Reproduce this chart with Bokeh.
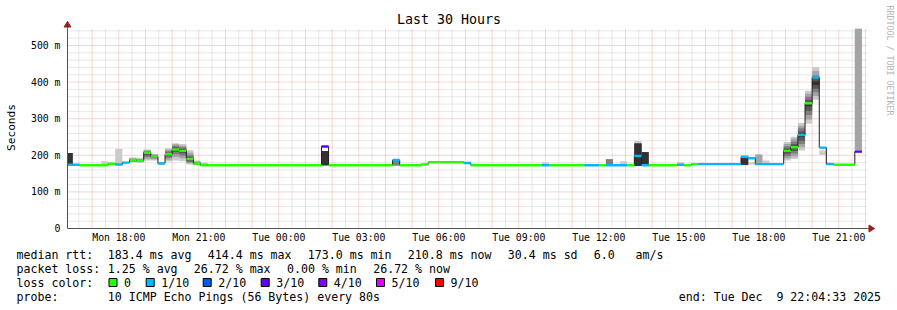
import math
import pandas as pd
from bokeh.plotting import figure
from bokeh.core.properties import value
from bokeh.models import (Range1d, FixedTicker, CustomJSTickFormatter, DatetimeTickFormatter,
                          ColumnDataSource)
from bokeh.embed import file_html
from bokeh.resources import INLINE

# ---------------- data ----------------
title_text = "Last 30 Hours"
y_label = "Seconds"
watermark = "RRDTOOL / TOBI OETIKER"
start_time = "2025-12-08 16:04:33"
end_time = "2025-12-09 22:04:33"

# consolidated 16-minute bins (run-length: a row holds until the next start)
bin_start = [
    "2025-12-08 16:00", "2025-12-08 16:16", "2025-12-08 16:32", "2025-12-08 17:20",
    "2025-12-08 17:36", "2025-12-08 17:52", "2025-12-08 18:08", "2025-12-08 18:24",
    "2025-12-08 18:40", "2025-12-08 18:56", "2025-12-08 19:12", "2025-12-08 19:28",
    "2025-12-08 19:44", "2025-12-08 20:00", "2025-12-08 20:16", "2025-12-08 20:32",
    "2025-12-08 20:48", "2025-12-08 21:04", "2025-12-08 21:20", "2025-12-09 01:36",
    "2025-12-09 01:52", "2025-12-09 04:16", "2025-12-09 04:32", "2025-12-09 05:20",
    "2025-12-09 05:36", "2025-12-09 06:56", "2025-12-09 07:12", "2025-12-09 09:52",
    "2025-12-09 10:08", "2025-12-09 11:28", "2025-12-09 12:00", "2025-12-09 12:16",
    "2025-12-09 12:32", "2025-12-09 12:48", "2025-12-09 13:04", "2025-12-09 13:20",
    "2025-12-09 13:36", "2025-12-09 13:52", "2025-12-09 14:56", "2025-12-09 15:12",
    "2025-12-09 15:28", "2025-12-09 15:44", "2025-12-09 17:20", "2025-12-09 17:36",
    "2025-12-09 17:52", "2025-12-09 18:08", "2025-12-09 18:24", "2025-12-09 18:56",
    "2025-12-09 19:12", "2025-12-09 19:28", "2025-12-09 19:44", "2025-12-09 20:00",
    "2025-12-09 20:16", "2025-12-09 20:32", "2025-12-09 20:48", "2025-12-09 21:36",
]
last_bin_end = "2025-12-09 21:52"

median_ms = [
    174, 174, 173, 173, 177, 175, 180, 187, 185, 207, 197, 178, 203, 216, 212, 190,
    177, 173, 173, 224, 173, 187, 173, 175, 181, 179, 173, 173, 173, 173, 173, 173,
    173, 173, 173, 198, 173, 173, 174, 173, 176, 176, 196, 192, 176, 176, 176, 212,
    222, 255, 342, 413, 221, 176, 174, 210,
]

lost_pings = [
    1, 1, 0, 0, 0, 1, 1, 0, 0, 0, 0, 1, 0, 0, 0, 0,
    0, 0, 0, 3, 0, 1, 0, 0, 0, 1, 0, 1, 0, 1, 0, 1,
    1, 1, 0, 1, 1, 0, 1, 0, 0, 1, 1, 1, 1, 1, 1, 0,
    0, 1, 0, 1, 1, 1, 0, 3,
]

# sorted ping times (ms) of each bin, None where no smoke is visible
smoke_pings = [
    [173, 173, 173, 173, 173, 206, 206, 206, 206, 206],
    None,
    None,
    [173, 173, 173, 173, 173, 173, 173, 174, 176, 184],
    None,
    [174, 175, 175, 175, 175, 175, 175, 175, 176, 218],
    None,
    [180, 182, 184, 185, 186, 187, 188, 190, 192, 194],
    [180, 181, 183, 184, 185, 185, 186, 188, 190, 193],
    [186, 190, 195, 200, 205, 208, 210, 212, 214, 216],
    [186, 189, 192, 195, 197, 198, 199, 200, 202, 204],
    [174, 175, 176, 177, 178, 178, 179, 179, 180, 181],
    [183, 188, 193, 197, 201, 204, 207, 211, 215, 219],
    [186, 195, 203, 209, 214, 218, 222, 226, 230, 233],
    [184, 192, 199, 205, 210, 214, 218, 222, 226, 231],
    [175, 178, 181, 184, 188, 192, 196, 201, 207, 214],
    [174, 175, 175, 176, 177, 178, 179, 180, 183, 186],
    [173, 173, 173, 173, 173, 174, 174, 175, 177, 180],
    None,
    [173, 173, 173, 173, 173, 212, 212, 212, 212, 212],
    None,
    [172, 172, 172, 179, 179, 179, 179, 186, 186, 186],
    None,
    None,
    None,
    None,
    None,
    [173, 173, 173, 173, 173, 173, 173, 173, 176, 180],
    None,
    None,
    None,
    [173, 173, 173, 173, 173, 173, 173, 189, 189, 189],
    None,
    [173, 173, 173, 173, 173, 173, 173, 173, 173, 184],
    None,
    [171, 171, 171, 171, 171, 232, 232, 232, 232, 239],
    [172, 172, 172, 172, 172, 208, 208, 208, 208, 208],
    None,
    [173, 173, 173, 173, 173, 173, 173, 173, 173, 181],
    None,
    None,
    None,
    [172, 174, 174, 174, 174, 192, 192, 192, 192, 199],
    [175, 175, 175, 175, 175, 175, 175, 175, 175, 180],
    [175, 178, 178, 178, 178, 178, 178, 178, 202, 202],
    [175, 175, 175, 175, 175, 175, 175, 175, 175, 186],
    None,
    [186, 192, 198, 204, 210, 214, 219, 225, 231, 236],
    [190, 197, 205, 212, 219, 225, 231, 238, 245, 251],
    [213, 222, 231, 240, 250, 258, 266, 274, 281, 288],
    [286, 298, 310, 322, 334, 345, 352, 360, 368, 376],
    [352, 362, 372, 382, 392, 402, 410, 418, 430, 441],
    [201, 201, 201, 201, 201, 201, 201, 201, 201, 213],
    [175, 175, 175, 175, 175, 175, 175, 175, 175, 181],
    None,
    [213, 213, 213, 213, 213, 213, 213, 213, 546, 546],
]

loss_keys = [0, 1, 2, 3, 4, 5, 9]
loss_labels = ["0", "1/10", "2/10", "3/10", "4/10", "5/10", "9/10"]
loss_colors = ["#26ff00", "#00b8ff", "#0059ff", "#5e00ff", "#7e00ff", "#dd00ff", "#ff0000"]

y_max = 546.4
y_ticks = [0, 100, 200, 300, 400, 500]
x_label_ticks = ["2025-12-08 18:00", "2025-12-08 21:00", "2025-12-09 00:00", "2025-12-09 03:00",
                 "2025-12-09 06:00", "2025-12-09 09:00", "2025-12-09 12:00", "2025-12-09 15:00",
                 "2025-12-09 18:00", "2025-12-09 21:00"]

rtt_head = "median rtt:"
rtt_items = ["183.4 ms avg", "414.4 ms max", "173.0 ms min", "210.8 ms now", "30.4 ms sd", "6.0", "am/s"]
loss_head = "packet loss:"
loss_items = ["1.25 % avg", "26.72 % max", "0.00 % min", "26.72 % now"]
color_head = "loss color:"
probe_head = "probe:"
probe_text = "10 ICMP Echo Pings (56 Bytes) every 80s"
end_parts = ["end: Tue Dec", "9 22:04:33 2025"]   # "end: Tue Dec  9 22:04:33 2025"

# ---------------- layout constants (canvas pixels) ----------------
W, H = 897, 310
FL, FT, FW, FH = 67, 28, 800, 200      # plotting area of the graph
FB = FT + FH
MONO = "DejaVu Sans Mono"
CH = 6.97                               # monospace advance of the legend font


def ms(ts):
    return pd.Timestamp(ts).value // 10**6


t0, t1 = ms(start_time), ms(end_time)
x_per_px = (t1 - t0) / FW
y_per_px = y_max / FH

# The whole canvas is the frame; the graph area is placed inside it via the ranges.
p = figure(width=W, height=H, x_axis_type="datetime", output_backend="svg",
           toolbar_location=None, min_border=0,
           x_range=Range1d(t0 - FL * x_per_px, t1 + (W - FL - FW) * x_per_px),
           y_range=Range1d(-(H - FB) * y_per_px, y_max + FT * y_per_px))
p.extra_x_ranges = {"px": Range1d(0, W)}
p.extra_y_ranges = {"px": Range1d(H, 0)}
p.background_fill_color = "#ffffff"
p.border_fill_color = "#ffffff"
p.outline_line_color = None
p.xgrid.visible = False
p.ygrid.visible = False

# ---------------- grid (bounded to the graph area) ----------------
half_hours = [pd.Timestamp("2025-12-08 16:00") + pd.Timedelta(minutes=30 * k) for k in range(64)]
minor_x = [ms(t) for t in half_hours if t0 < ms(t) < t1 and t.minute == 30]
major_x = [ms(t) for t in half_hours if t0 < ms(t) < t1 and t.minute == 0]
minor_y = [v for v in range(20, 560, 20) if v % 100 != 0 and v < y_max]
major_y = [v for v in range(100, 600, 100) if v < y_max]

GRAY = "#d0d0d0"
RED = "#f4a8a8"
p.segment(x0=minor_x, x1=minor_x, y0=[0] * len(minor_x), y1=[y_max] * len(minor_x),
          line_color=GRAY, line_width=1, line_dash="1 1")
p.segment(x0=[t0] * len(minor_y), x1=[t1] * len(minor_y), y0=minor_y, y1=minor_y,
          line_color=GRAY, line_width=1, line_dash="1 1")
p.segment(x0=major_x, x1=major_x, y0=[0] * len(major_x), y1=[y_max] * len(major_x),
          line_color=RED, line_width=1, line_dash="1 1")
p.segment(x0=[t0] * len(major_y), x1=[t1] * len(major_y), y0=major_y, y1=major_y,
          line_color=RED, line_width=1, line_dash="1 1")

# ---------------- bins ----------------
starts = [max(ms(s), t0) for s in bin_start]
ends = starts[1:] + [ms(last_bin_end)]


def loss_color(lost):
    for k, c in zip(loss_keys, loss_colors):
        if lost <= k:
            return c
    return loss_colors[-1]


# smoke layers (SmokePing style: outer layers light, inner layers dark)
half = 5
for ibot in range(1, half + 1):
    lvl = int(190 / half * (half - ibot)) + 50
    col = "#" + ("%02x" % lvl) * 3
    L, R, B, T = [], [], [], []
    for s, e, pg in zip(starts, ends, smoke_pings):
        if pg is None:
            continue
        L.append(s)
        R.append(e)
        B.append(pg[ibot - 1])
        T.append(pg[10 - ibot])
    src = ColumnDataSource(dict(left=L, right=R, bottom=B, top=T))
    p.quad(left="left", right="right", bottom="bottom", top="top", source=src,
           fill_color=col, line_color=None)

# median line
p.step(x=starts + [ends[-1]], y=median_ms + [median_ms[-1]], mode="after",
       line_color="#202020", line_width=1)

# loss-coloured median marks
sw = 1.2 * y_per_px
band = ColumnDataSource(dict(
    left=starts, right=ends,
    bottom=[m - sw for m in median_ms], top=[m + sw for m in median_ms],
    color=[loss_color(l) for l in lost_pings]))
p.quad(left="left", right="right", bottom="bottom", top="top", source=band,
       fill_color="color", line_color=None)

# ---------------- axes ----------------
AX = "#505050"
xa = p.xaxis[0]
ya = p.yaxis[0]
xa.fixed_location = 0
xa.bounds = (t0, t1)
ya.fixed_location = t0
ya.bounds = (0, y_max)
xa.ticker = FixedTicker(ticks=[ms(t) for t in x_label_ticks])
fmt = "%a %H:%M"
xa.formatter = DatetimeTickFormatter(hours=fmt, hourmin=fmt, days=fmt, minutes=fmt,
                                     months=fmt, strip_leading_zeros=False)
ya.ticker = FixedTicker(ticks=y_ticks)
ya.formatter = CustomJSTickFormatter(code="return tick == 0 ? '0' : tick.toFixed(0) + ' m';")
for ax in (xa, ya):
    ax.axis_line_color = AX
    ax.axis_line_width = 1
    ax.major_tick_out = 0
    ax.major_tick_in = 0
    ax.minor_tick_out = 0
    ax.minor_tick_in = 0
    ax.major_label_text_font = MONO
    ax.major_label_text_font_size = "9.8px"
    ax.major_label_text_color = "#000000"
ya.major_label_standoff = 7
xa.major_label_standoff = 3

# ---------------- decorations in canvas pixels ----------------
ARROW = "#961e1e"
p.segment(x0=[FL, FL + FW], x1=[FL, FL + FW + 2], y0=[FT, FB], y1=[FT - 2, FB],
          x_range_name="px", y_range_name="px", line_color=AX, line_width=1)
p.patches(xs=[[FL - 3.5, FL + 3.5, FL], [FL + FW + 1.5, FL + FW + 1.5, FL + FW + 7]],
          ys=[[FT - 1.5, FT - 1.5, FT - 7], [FB - 3.5, FB + 3.5, FB]],
          x_range_name="px", y_range_name="px", fill_color=ARROW, line_color=ARROW)


def txt(xs, ys, texts, size, align="left", baseline="middle", color="#000000", angle=0.0):
    p.text(x=xs, y=ys, text=texts, x_range_name="px", y_range_name="px",
           text_font=value(MONO), text_font_size=value(size), text_align=align,
           text_baseline=baseline, text_color=color, angle=angle)


txt([448.5], [19], [title_text], "13.3px", align="center")
txt([11], [127], [y_label], "11.2px", align="center", angle=math.pi / 2)
txt([889], [5], [watermark], "8.3px", color="#b4b4b4", angle=-math.pi / 2)

FS = "11.6px"
Y1, Y2, Y3, Y4 = 254, 268, 282, 296
rtt_x = [107.3, 207.3, 307.3, 407.3, 507.3, 593.3, 635]
loss_x = [107.3, 193.3, 286.5, 372.7]
sw_x = [108.5, 145.7, 202.7, 260.7, 318.3, 376.0, 435.0]
txt([16] + rtt_x, [Y1] * (1 + len(rtt_x)), [rtt_head] + rtt_items, FS)
txt([16] + loss_x, [Y2] * (1 + len(loss_x)), [loss_head] + loss_items, FS)
txt([16] + [x + 15 for x in sw_x], [Y3] * (1 + len(sw_x)), [color_head] + loss_labels, FS)
p.quad(left=sw_x, right=[x + 8 for x in sw_x], top=[Y3 - 4] * len(sw_x), bottom=[Y3 + 4] * len(sw_x),
       x_range_name="px", y_range_name="px", fill_color=loss_colors, line_color="#000000",
       line_width=1)
end_x = 678.3
txt([16, 107.3, end_x, end_x + (len(end_parts[0]) + 2) * CH], [Y4] * 4,
    [probe_head, probe_text] + end_parts, FS)

open("out.html", "w").write(file_html(p, INLINE))
